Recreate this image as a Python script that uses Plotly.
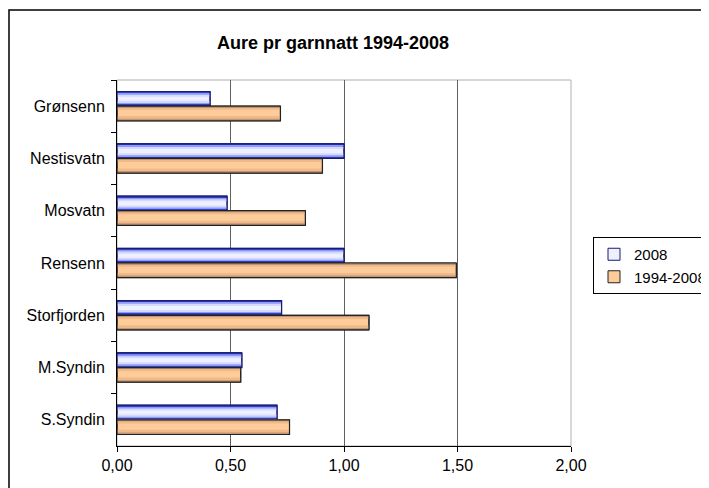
import plotly.graph_objects as go

categories = ["Grønsenn", "Nestisvatn", "Mosvatn", "Rensenn", "Storfjorden", "M.Syndin", "S.Syndin"]
series_2008 = [0.41, 1.00, 0.485, 1.00, 0.725, 0.55, 0.705]
series_1994_2008 = [0.72, 0.905, 0.83, 1.495, 1.11, 0.545, 0.76]
x_ticks = [0, 0.5, 1.0, 1.5, 2.0]

FONT = "Liberation Sans, Arial, sans-serif"
W = 0.28  # bar thickness in category units

# page has an 8px body margin; figure is sized/offset to compensate
FW, FH = 701, 480
L, R, T, B = 109, 138, 72, 42
PW, PH = FW - L - R, FH - T - B

fig = go.Figure()


def add_gradient_bar(name, vals, off, base, stripes, outline):
    n = len(vals)
    fig.add_trace(go.Bar(
        name=name, y=categories, x=vals, orientation="h",
        offset=off, width=W,
        marker=dict(color=base, line=dict(color=outline, width=1)),
        showlegend=True, hoverinfo="skip",
    ))
    for dtop, dbot, col in stripes:
        ys, xs, offs, wids = [], [], [], []
        if dtop > 0:
            ys += categories
            xs += vals
            offs += [off] * n
            wids += [dtop * W] * n
        if dbot > 0:
            ys += categories
            xs += vals
            offs += [off + W - dbot * W] * n
            wids += [dbot * W] * n
        fig.add_trace(go.Bar(
            y=ys, x=xs, orientation="h", offset=offs, width=wids,
            marker=dict(color=col, line=dict(width=0)),
            showlegend=False, hoverinfo="skip",
        ))
    fig.add_trace(go.Bar(
        y=categories, x=vals, orientation="h", offset=off, width=W,
        marker=dict(color="rgba(0,0,0,0)", line=dict(color=outline, width=1.2)),
        showlegend=False, hoverinfo="skip",
    ))


add_gradient_bar(
    "2008", series_2008, -W, "#eef0ff",
    [(0.36, 0.36, "#d4d9ff"), (0.22, 0.22, "#8e9af5"), (0.09, 0.09, "#2f3fc4")],
    "#1a1a70",
)
add_gradient_bar(
    "1994-2008", series_1994_2008, 0.0, "#fdcc9a",
    [(0.25, 0.32, "#f0ba88"), (0.1, 0.14, "#c09474")],
    "#222222",
)

fig.update_layout(
    width=FW, height=FH,
    margin=dict(l=L, r=R, t=T, b=B, autoexpand=False),
    paper_bgcolor="white", plot_bgcolor="white",
    barmode="overlay",
    separators=", ",
    font=dict(family=FONT, size=16, color="black"),
    title=dict(text="<b>Aure pr garnnatt 1994-2008</b>", x=325 / FW, xanchor="center",
               y=1 - 35 / FH, yanchor="middle", yref="container",
               font=dict(family=FONT, size=18, color="black")),
    showlegend=True,
    legend=dict(xref="container", yref="container",
                x=585 / FW, y=1 - 229 / FH, xanchor="left", yanchor="top",
                bordercolor="black", borderwidth=1, bgcolor="white",
                font=dict(family=FONT, size=15, color="black"),
                itemwidth=30, tracegroupgap=0,
                itemclick=False, itemdoubleclick=False),
    xaxis=dict(range=[0, 2], tickvals=x_ticks, tickformat=".2f", automargin=False,
               showgrid=True, gridcolor="#606060", gridwidth=1,
               zeroline=False, showline=True, linecolor="black", linewidth=1,
               ticks="outside", ticklen=5, tickcolor="black",
               tickfont=dict(family=FONT, size=16, color="black")),
    yaxis=dict(type="category", categoryorder="array", categoryarray=categories,
               autorange="reversed", showgrid=False, zeroline=False, automargin=False,
               showline=True, linecolor="black", linewidth=1,
               ticks="outside", ticklen=5, tickcolor="black", tickson="boundaries",
               ticklabelstandoff=8,
               tickfont=dict(family=FONT, size=16, color="black")),
    shapes=[
        dict(type="rect", xref="paper", yref="paper", x0=0, x1=1, y0=0, y1=1,
             line=dict(color="#b0b0b0", width=1), layer="below"),
        dict(type="rect", xref="paper", yref="paper",
             x0=(1 - L) / PW, x1=(FW + 20 - L) / PW,
             y0=-(B + 20) / PH, y1=(PH + T - 2) / PH,
             line=dict(color="black", width=1.5), layer="below"),
    ],
)

fig.write_html("out.html")
